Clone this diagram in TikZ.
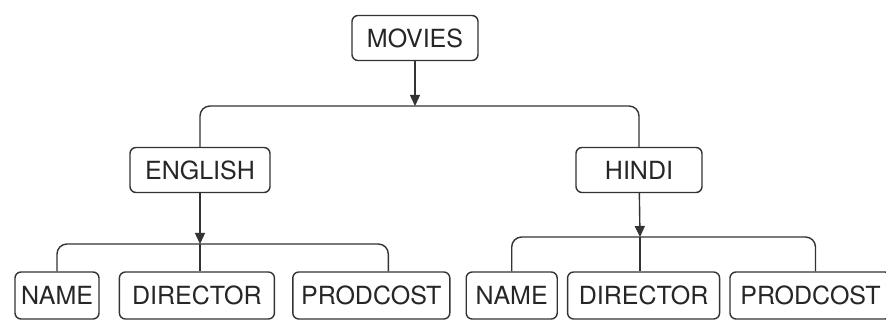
\documentclass[tikz,border=0pt]{standalone}
\usepackage{fontspec}
\setmainfont{TeX Gyre Heros}
\usetikzlibrary{arrows.meta,positioning}

\begin{document}
\begin{tikzpicture}[x=1pt,y=-1pt,>={Triangle[length=11pt,width=10pt]},line width=1.4pt,
  rec node/.style={rectangle,rounded corners=6pt,draw=black!80,fill=white,text=black!85,
    inner sep=1pt,minimum height=45pt,font=\fontsize{25}{25}\selectfont},
  bar/.style={draw=black!80,rounded corners=10pt},
  link/.style={draw=black!80,->}]

  \useasboundingbox (0,0) rectangle (886,320);

  \node[rec node,minimum width=126pt] (1) at (415,38) {MOVIES};
  \node[rec node,minimum width=140pt] (2) at (200,170) {ENGLISH};
  \node[rec node,minimum width=126pt] (3) at (639,170) {HINDI};

  \node[rec node,minimum width=84pt,minimum height=47pt] (4) at (57,295.5) {NAME};
  \node[rec node,minimum width=155pt,minimum height=47pt] (5) [right=19pt of 4] {DIRECTOR};
  \node[rec node,minimum width=157pt,minimum height=47pt] (6) [right=17pt of 5] {PRODCOST};
  \node[rec node,minimum width=91pt,minimum height=47pt] (7) [right=15pt of 6] {NAME};
  \node[rec node,minimum width=152pt,minimum height=47pt] (8) [right=9pt of 7] {DIRECTOR};
  \node[rec node,minimum width=161pt,minimum height=47pt] (9) [right=9pt of 8] {PRODCOST};

  \coordinate (b1) at (415,106);
  \coordinate (b2) at (200,244);
  \coordinate (b3) at (640,237);

  % movies
  \draw[link] (1) -- (b1);
  \draw[bar] (2.north) |- (b1) -| (3.north);

  % english
  \draw[link] (2) -- (b2);
  \draw[bar] (b2) -- (b2 |- 5.north);
  \draw[bar] (4.north) |- (b2) -| ([xshift=17pt]6.north);

  % hindi
  \draw[link] (3) -- (b3);
  \draw[bar] (b3) -- (b3 |- 8.north);
  \draw[bar] (7.north) |- (b3) -| ([xshift=5pt]9.north);

\end{tikzpicture}
\end{document}
